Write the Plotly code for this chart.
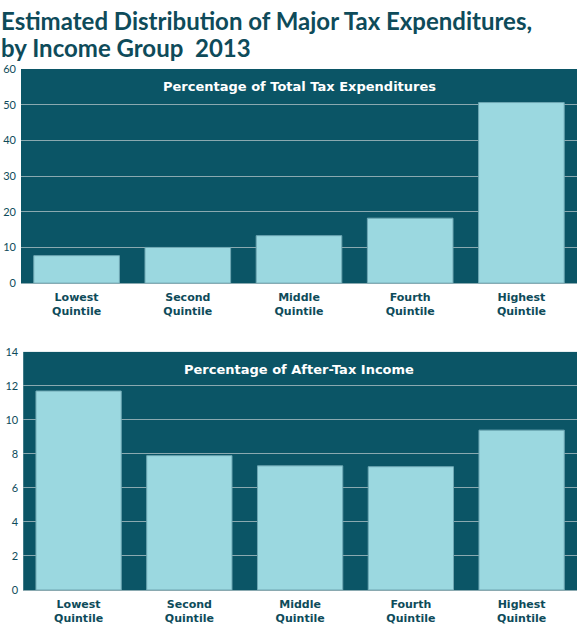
import plotly.graph_objects as go
from plotly.subplots import make_subplots

quintiles = ["Lowest<br>Quintile", "Second<br>Quintile", "Middle<br>Quintile",
             "Fourth<br>Quintile", "Highest<br>Quintile"]
share_of_expenditures = [7.7, 10.0, 13.3, 18.2, 50.6]
share_of_income = [11.7, 7.9, 7.3, 7.25, 9.4]

bg = "#0b5566"
bar_fill = "#9bd8e0"
ink = "#0e4b5a"

fig = make_subplots(rows=2, cols=1)

fig.add_trace(go.Bar(x=quintiles, y=share_of_expenditures,
                     marker=dict(color=bar_fill, line=dict(color="#6ea7b3", width=1))),
              row=1, col=1)
fig.add_trace(go.Bar(x=quintiles, y=share_of_income,
                     marker=dict(color=bar_fill, line=dict(color="#6ea7b3", width=1))),
              row=2, col=1)

fig.update_xaxes(showgrid=False, ticks="", showline=False, zeroline=False,
                 ticklabelstandoff=6, automargin=False,
                 tickfont=dict(family="DejaVu Sans", size=11, color=ink, weight="bold"))
fig.update_xaxes(domain=[0, 1], row=1, col=1)
fig.update_xaxes(domain=[0.004, 1], row=2, col=1)
fig.update_yaxes(showgrid=True, gridcolor="#8aa9b0", gridwidth=1, zeroline=True,
                 zerolinecolor="#8aa9b0", zerolinewidth=1, ticks="", showline=False,
                 ticklabelstandoff=4, automargin=False,
                 tickfont=dict(family="Lato", size=11, color=ink))
fig.update_yaxes(range=[0, 60], dtick=10, domain=[0.589, 1], row=1, col=1)
fig.update_yaxes(range=[0, 14], dtick=2, domain=[0, 0.457], row=2, col=1)

# panel titles inside the plot areas
fig.add_annotation(text="Percentage of Total Tax Expenditures", xref="paper", yref="paper",
                   x=0.5, y=0.9655, yanchor="middle", showarrow=False,
                   font=dict(family="DejaVu Sans", size=13, color="white", weight="bold"))
fig.add_annotation(text="Percentage of After-Tax Income", xref="paper", yref="paper",
                   x=0.5, y=0.4223, yanchor="middle", showarrow=False,
                   font=dict(family="DejaVu Sans", size=13, color="white", weight="bold"))

# main title, two lines
title_font = dict(family="Lato", size=24, color=ink, weight="bold")
fig.add_annotation(text="Estimated Distribution of Major Tax Expenditures,",
                   xref="paper", yref="paper", x=-0.04, y=1.094, xanchor="left", yanchor="middle",
                   showarrow=False, font=title_font)
fig.add_annotation(text="by Income Group  2013",
                   xref="paper", yref="paper", x=-0.04, y=1.042, xanchor="left", yanchor="middle",
                   showarrow=False, font=title_font)

fig.update_layout(width=583, height=624, showlegend=False,
                  margin=dict(l=21, r=6, t=69, b=34),
                  paper_bgcolor="white", plot_bgcolor=bg, bargap=0.23)

fig.write_html("out.html", config={"displayModeBar": False},
               post_script="document.body.style.margin='0';")
